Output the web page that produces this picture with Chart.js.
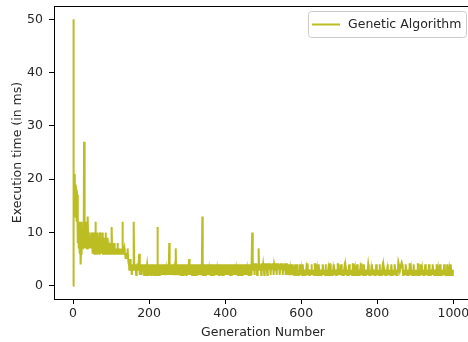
<!DOCTYPE html>
<html>
<head>
<meta charset="utf-8">
<script src="https://cdn.jsdelivr.net/npm/chart.js@4"></script>
<style>
  html, body { margin: 0; padding: 0; overflow: hidden; background: #fff; }
</style>
</head>
<body>
<canvas id="chart" width="473" height="342"></canvas>
<script>

var seriesName = 'Genetic Algorithm'
var xTitle = 'Generation Number'
var yTitle = 'Execution time (in ms)'
var xTicks = [0, 200, 400, 600, 800, 1000]
var yTicks = [0, 10, 20, 30, 40, 50]

// execution time per generation (50 per row)
var execTimes = [
  0,50,21,14,19,21,13,19,18,12, 18,17,11,8,12,7,10,6,12,9, 4,6,8,12,7,9,8,11,7,27, 13,9,8,12,7,10,8,7,9,13, 8,7,10,8,7,9,7,8,10,7,
  9,8,6,10,7,9,6,8,7,12, 8,6,9,7,10,6,8,7,9,6, 8,10,7,6,9,7,6,8,10,6, 7,9,6,8,6,7,10,6,9,6, 9,7,6,8,6,7,6,8,6,7,
  6,7,11,6,6,7,6,6,8,6, 6,6,7,6,6,6,6,8,6,6, 7,6,6,6,6,7,6,6,6,6, 12,6,6,6,6,7,6,6,5,6, 6,5,6,6,7,5,4,5,3,5,
  4,5,3,4,4,2,4,4,3,5, 12,4,4,3,4,4,2,4,4,3, 4,4,3,4,6,4,2,4,4,3, 4,2,4,4,3,4,4,2,4,3, 4,4,2,4,3,4,4,3,2,4,
  3,4,2,4,3,4,2,3,4,2, 4,3,4,2,4,3,2,4,3,2, 4,3,11,4,2,3,4,2,3,4, 2,3,4,2,4,3,2,4,3,2, 4,2,3,4,2,3,2,4,3,2,
  4,3,2,8,3,4,2,3,4,2, 3,4,2,3,4,2,3,4,2,3, 7,3,2,4,3,2,4,3,2,3, 4,2,3,4,2,3,4,2,3,4, 2,3,4,2,3,4,2,3,2,4,
  3,2,4,3,2,5,3,2,4,3, 2,4,3,2,4,3,2,3,4,2, 3,4,2,3,2,4,3,2,4,3, 2,4,3,2,3,4,2,3,4,2, 13,3,2,4,3,2,4,3,2,3,
  4,2,3,4,2,3,4,2,3,4, 2,3,4,2,4,3,2,4,3,2, 4,3,2,3,4,2,3,4,2,3, 4,2,3,4,2,3,2,4,3,2, 4,3,2,4,3,2,3,4,2,3,
  4,2,3,4,2,4,3,2,4,3, 2,4,3,2,3,4,2,3,4,2, 3,4,2,3,4,2,3,4,2,3, 4,2,3,4,2,3,4,2,3,2, 4,3,2,4,3,2,4,3,2,3,
  4,2,3,4,2,3,4,2,3,4, 2,3,4,2,3,4,2,3,4,2, 4,10,4,4,3,4,4,2,4,4, 3,4,4,4,2,4,4,3,7,4, 4,4,3,4,4,2,4,4,4,3,
  4,4,4,2,4,4,3,4,4,4, 4,2,4,4,4,3,4,4,4,4, 2,4,4,3,4,4,4,4,2,4, 4,4,3,4,4,4,2,4,4,4, 4,3,4,4,2,4,4,4,3,4,
  4,4,2,4,4,3,4,4,4,2, 4,3,4,4,2,3,4,2,3,4, 2,3,2,4,3,2,3,2,4,3, 2,3,2,3,4,2,3,2,3,2, 4,3,2,3,2,3,2,4,3,2,
  3,2,3,2,4,3,2,3,2,3, 2,3,2,3,2,4,4,2,3,2, 3,2,3,2,3,2,3,4,2,3, 2,3,2,3,2,3,4,4,3,2, 3,2,3,2,3,2,4,3,2,3,
  2,3,2,3,2,3,4,4,3,2, 3,2,3,2,4,3,2,3,2,3, 2,3,2,3,2,4,4,2,3,2, 3,2,3,2,3,2,4,3,2,3, 2,3,2,3,2,3,4,4,3,2,
  3,2,3,2,3,4,2,3,2,3, 2,3,2,3,2,3,4,4,3,2, 3,2,3,2,3,2,4,3,2,3, 2,3,2,3,2,3,4,4,3,2, 3,2,3,2,3,2,3,4,2,3,
  2,3,2,3,2,3,2,4,4,2, 3,2,3,2,3,4,2,3,2,3, 2,3,2,3,2,3,4,4,3,2, 3,2,3,2,3,2,4,3,2,3, 2,3,2,3,2,3,2,4,4,2,
  3,2,3,2,3,2,4,3,2,3, 2,3,2,3,2,3,4,4,3,2, 3,2,3,2,3,2,3,4,2,3, 2,3,2,3,2,3,2,4,4,2, 3,2,3,2,3,2,4,3,2,3,
  2,3,2,3,2,4,3.5,4,3.5,4, 3.5,4,3.5,4,3.5,4,3.5,4,2,3, 2,3,2,3,2,4,3,2,3,2, 3,2,3,2,3,4,4,3,2,3, 2,3,2,3,2,3,4,2,3,2,
  3,2,3,2,3,2,3,4,4,3, 2,3,2,3,2,4,3,2,3,2, 3,2,3,2,3,2,4,4,2,3, 2,3,2,3,2,3,4,2,3,2, 3,2,3,2,3,4,4,3,2,3,
  2,3,2,3,2,3,4,2,3,2, 3,2,3,2,3,4,4,3,2,3, 2,3,2,3,2,3,4,2,3,2, 3,2,3,2,4,4,2,3,2,3, 2,3,2,4,3,2,3,2,3,3
]

var generations = execTimes.map((v, i) => i)

var textColor = '#262626'
var lineColor = '#bcbd22'
var font = { family: 'DejaVu Sans', size: 12.5 }

// top/right spines + boxed legend like matplotlib
var mplFrame = {
  id: 'mplFrame',
  afterDraw(chart) {
    const ctx = chart.ctx
    const a = chart.chartArea
    ctx.save()
    ctx.strokeStyle = '#000'
    ctx.lineWidth = 1
    ctx.strokeRect(a.left + 0.5, a.top + 0.5, a.right - a.left, a.bottom - a.top)

    // legend
    const x0 = 308.5, y0 = 11.5, w = 158, h = 26
    ctx.beginPath()
    ctx.roundRect(x0, y0, w, h, 3)
    ctx.fillStyle = 'rgba(255,255,255,0.8)'
    ctx.fill()
    ctx.strokeStyle = '#cccccc'
    ctx.stroke()
    ctx.beginPath()
    ctx.moveTo(312, y0 + h / 2)
    ctx.lineTo(340, y0 + h / 2)
    ctx.strokeStyle = lineColor
    ctx.lineWidth = 2
    ctx.stroke()
    ctx.fillStyle = textColor
    ctx.font = font.size + 'px "' + font.family + '"'
    ctx.textBaseline = 'middle'
    ctx.fillText(chart.data.datasets[0].label, 348, y0 + h / 2)
    ctx.restore()
  }
}

function noPad(axis) {
  axis.paddingTop = 0
  axis.paddingBottom = 0
  axis.paddingLeft = 0
  axis.paddingRight = 0
}

const ctx = document.getElementById('chart')

new Chart(ctx, {
  type: 'line',
  data: {
    datasets: [{
      label: seriesName,
      data: generations.map((g, i) => ({ x: g, y: execTimes[i] })),
      borderColor: lineColor,
      borderWidth: 2,
      pointRadius: 0,
      tension: 0,
      fill: false
    }]
  },
  options: {
    responsive: false,
    animation: false,
    layout: { padding: { top: 6, right: 1, left: 0, bottom: 0 } },
    plugins: {
      legend: { display: false },
      tooltip: { enabled: false }
    },
    scales: {
      x: {
        type: 'linear',
        min: -50,
        max: 1049,
        afterBuildTicks: axis => { axis.ticks = xTicks.map(v => ({ value: v })) },
        afterFit: axis => { axis.height = 43; noPad(axis) },
        ticks: { color: textColor, font: font, padding: 2, maxRotation: 0, callback: v => String(v) },
        grid: { drawOnChartArea: false, drawTicks: true, tickLength: 5, color: '#000' },
        border: { display: true, color: '#000', width: 1 },
        title: { display: true, text: xTitle, color: textColor, font: font, padding: { top: 0, bottom: 2 } }
      },
      y: {
        type: 'linear',
        min: -2.5,
        max: 52.5,
        afterBuildTicks: axis => { axis.ticks = yTicks.map(v => ({ value: v })) },
        afterFit: axis => { axis.width = 54; noPad(axis) },
        ticks: { color: textColor, font: font, padding: 6, callback: v => String(v) },
        grid: { drawOnChartArea: false, drawTicks: true, tickLength: 5, color: '#000' },
        border: { display: true, color: '#000', width: 1 },
        title: { display: true, text: yTitle, color: textColor, font: font, padding: { top: 10, bottom: 0 } }
      }
    }
  },
  plugins: [mplFrame]
})

</script>
</body>
</html>
